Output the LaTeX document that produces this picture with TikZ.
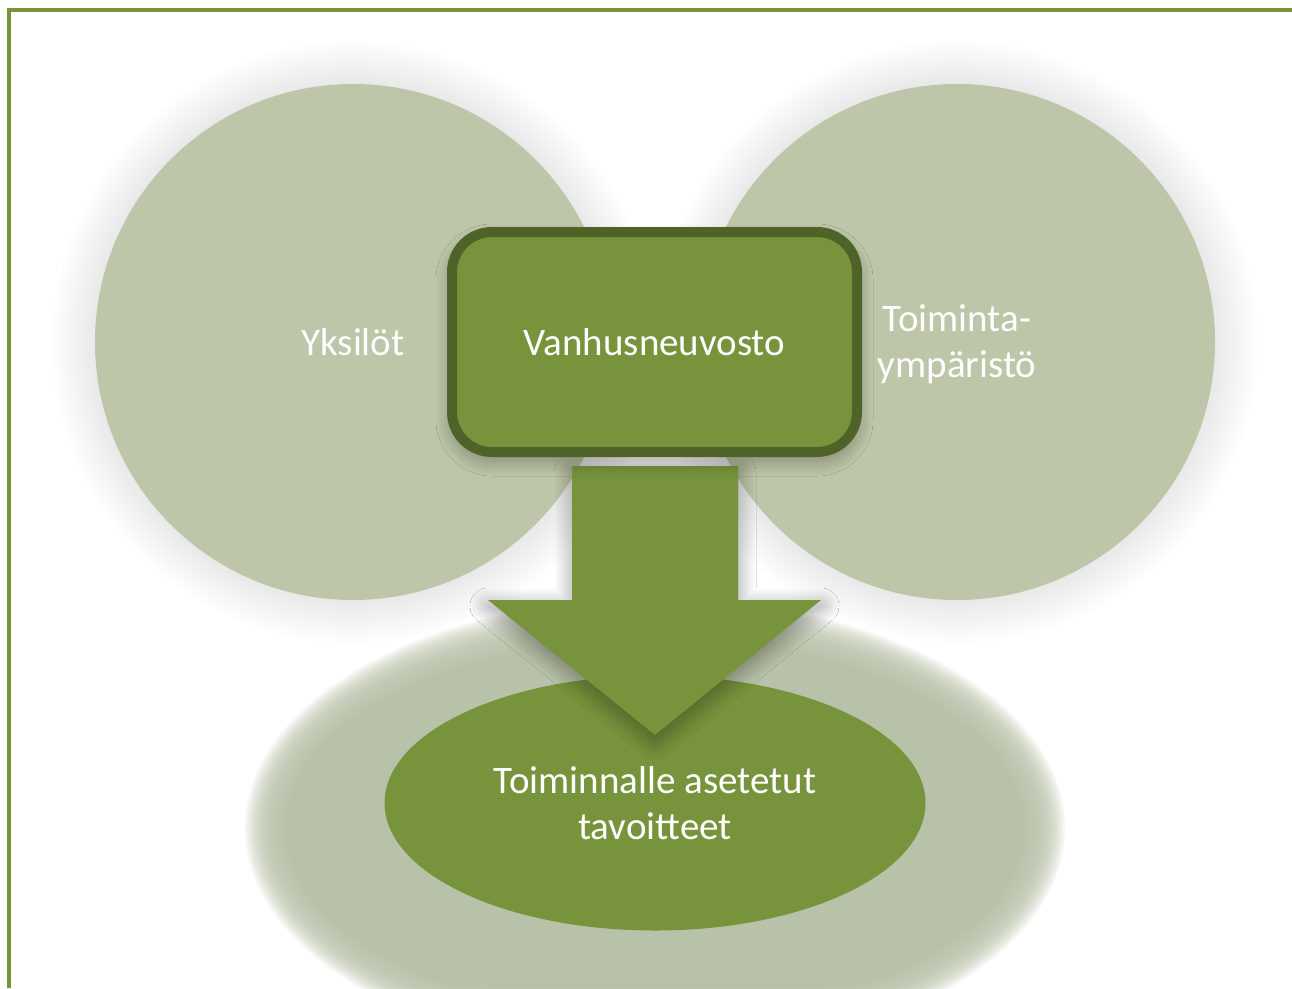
\documentclass[tikz,border=0pt]{standalone}
\usepackage{fontspec}
\setmainfont{Carlito}
\usetikzlibrary{shapes.geometric,shadows.blur}
\definecolor{sage}{RGB}{189,198,168}
\definecolor{glowsage}{RGB}{184,194,168}
\definecolor{leaf}{RGB}{119,147,60}
\definecolor{leafdark}{RGB}{79,98,40}
\begin{document}
\begin{tikzpicture}[x=1pt,y=-1pt,
  lbl/.style={text=white, font=\fontsize{39}{46}\selectfont, align=center},
  bigcircle/.style={circle, fill=sage, minimum size=516pt, inner sep=0pt, lbl},
  councilbox/.style={draw=leafdark, line width=10pt, fill=leaf, rounded corners=40pt,
     minimum width=405pt, minimum height=220pt, lbl,
     blur shadow={shadow xshift=0pt, shadow yshift=-8pt, shadow blur radius=16pt, shadow opacity=35, shadow blur steps=40}},
  goal/.style={ellipse, fill=leaf, minimum width=541pt, minimum height=255pt, inner sep=0pt, lbl},
  arrowshape/.style={fill=leaf,
     blur shadow={shadow xshift=0pt, shadow yshift=-6pt, shadow blur radius=18pt, shadow opacity=40, shadow blur steps=40}},
  framestyle/.style={draw=leaf, line width=4pt}
]
\useasboundingbox (0,0) rectangle (1292,988);
\fill[white] (0,0) rectangle (1292,988);
% frame
\draw[framestyle] (9,988) -- (9,10) -- (1292,10);
% glow under goal ellipse
\foreach \i in {0,...,24} {
  \fill[glowsage, opacity=0.12] (655,828) ellipse ({362+\i*2} and {182+\i*2});
}
% soft shadows of the circles
\foreach \i in {1,...,22} {
  \fill[black, opacity=0.005] (353,342) circle ({258+\i*2});
  \fill[black, opacity=0.005] (957,342) circle ({258+\i*2});
}
\node[bigcircle] (yks) at (353,342) {};
\node[bigcircle] (env) at (957,342) {};
\node[lbl] (yksl) at (353,342) {Yksilöt};
\node[lbl] (envl) at (957,344) {Toiminta-\\ympäristö};
% goal ellipse
\node[goal] (tav) at (655,803) {};
% arrow
\coordinate (atip) at (655,735);
\path[arrowshape] (572,466) -- (738,466) -- (738,600) -- (821,600) -- (atip) -- (488,600) -- (572,600) -- cycle;
\node[lbl] (tavl) at (655,803) {Toiminnalle asetetut\\tavoitteet};
% council box
\node[councilbox] (vn) at (654.5,342) {Vanhusneuvosto};
\end{tikzpicture}
\end{document}
